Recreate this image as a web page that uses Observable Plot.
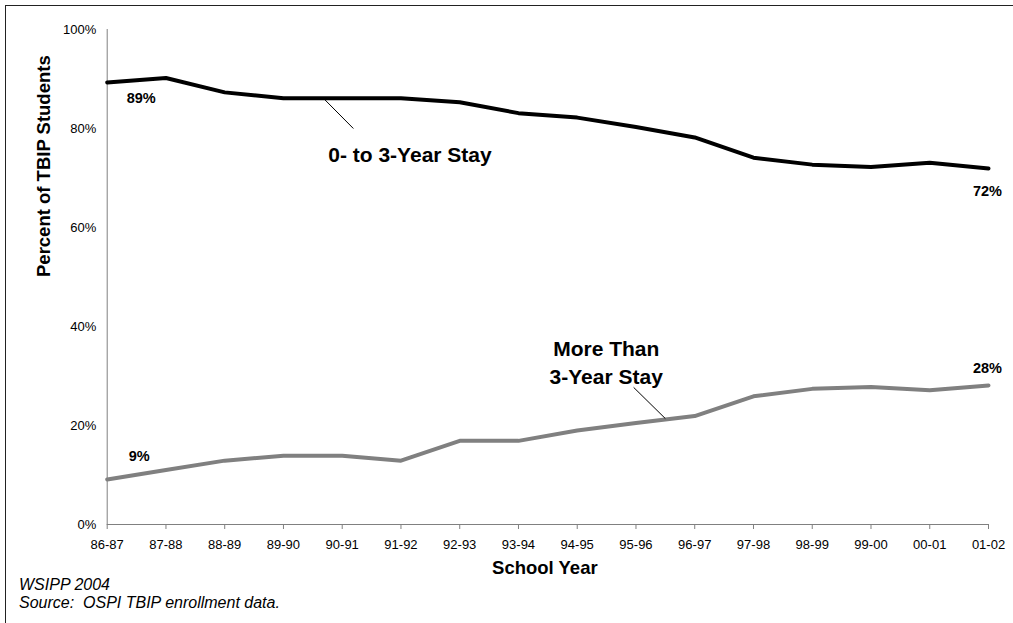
<!DOCTYPE html>
<html>
<head>
<meta charset="utf-8">
<script src="https://cdn.jsdelivr.net/npm/d3@7"></script>
<script src="https://cdn.jsdelivr.net/npm/@observablehq/plot@0.6"></script>
<style>
  html, body { margin: 0; padding: 0; background: #fff; overflow: hidden; }
  #wrap { position: relative; width: 1013px; height: 623px; font-family: Arial, "Liberation Sans", sans-serif; }
  #frame { position: absolute; left: 5px; top: 5px; width: 1030px; height: 640px; border: 1.5px solid #222; box-sizing: border-box; }
  #chart { position: absolute; left: 0; top: 0; }
  .foot { position: absolute; left: 19px; font-style: italic; font-size: 16px; color: #000; white-space: pre; }
</style>
</head>
<body>
<div id="wrap">
  <div id="frame"></div>
  <div id="chart"></div>
  <div class="foot" id="foot1" style="top:576px">WSIPP 2004</div>
  <div class="foot" id="foot2" style="top:594px">Source:  OSPI TBIP enrollment data.</div>
</div>
<script>
// ---- data ----
const years = ["86-87","87-88","88-89","89-90","90-91","91-92","92-93","93-94","94-95","95-96","96-97","97-98","98-99","99-00","00-01","01-02"];
const shortStay = [89.3, 90.2, 87.3, 86.1, 86.1, 86.1, 85.3, 83.1, 82.2, 80.3, 78.2, 74.1, 72.7, 72.2, 73.1, 71.9];
const longStay  = [9.1, 11.0, 12.9, 13.9, 13.9, 12.9, 16.9, 16.9, 19.0, 20.5, 21.9, 25.9, 27.4, 27.8, 27.1, 28.1];
const yTicks = [0, 20, 40, 60, 80, 100];
const shortName = "0- to 3-Year Stay";
const longName = "More Than\n3-Year Stay";
const firstShortLabel = "89%", lastShortLabel = "72%";
const firstLongLabel = "9%", lastLongLabel = "28%";
// leader lines (data space: year index, percent)
const leaders = [
  {x1: 3.68, y1: 86.1, x2: 4.19, y2: 80.0},
  {x1: 8.96, y1: 27.7, x2: 9.50, y2: 21.4}
];

const shortRows = shortStay.map((v, i) => ({i, v}));
const longRows = longStay.map((v, i) => ({i, v}));
const last = years.length - 1;
const font = "Arial, 'Liberation Sans', sans-serif";

const plot = Plot.plot({
  width: 1013,
  height: 590,
  marginLeft: 106.7,
  marginRight: 25,
  marginTop: 29,
  marginBottom: 66,
  style: {fontFamily: font, color: "#000", background: "transparent", overflow: "visible"},
  x: {type: "linear", domain: [0, last]},
  y: {domain: [0, 100]},
  marks: [
    Plot.axisX({ticks: d3.range(years.length), tickFormat: i => years[i], tickSize: 5, tickPadding: 10, fontSize: 13, stroke: "#808080", fill: "#000", label: null}),
    Plot.axisY({ticks: yTicks, tickFormat: d => d + "%", tickSize: 0, tickPadding: 11, fontSize: 13, fill: "#000", label: null}),
    Plot.ruleX([0], {y1: 0, y2: 100, stroke: "#808080"}),
    Plot.ruleY([0], {stroke: "#808080"}),
    Plot.line(longRows, {x: "i", y: "v", stroke: "#808080", strokeWidth: 4}),
    Plot.line(shortRows, {x: "i", y: "v", stroke: "#000", strokeWidth: 4}),
    Plot.link(leaders, {x1: "x1", y1: "y1", x2: "x2", y2: "y2", stroke: "#000", strokeWidth: 1}),
    Plot.text([shortRows[0]], {x: "i", y: "v", text: () => firstShortLabel, dx: 34, dy: 16, fontSize: 14.5, fontWeight: "bold", fontFamily: font}),
    Plot.text([shortRows[last]], {x: "i", y: "v", text: () => lastShortLabel, dx: -1, dy: 23, fontSize: 14.5, fontWeight: "bold", fontFamily: font}),
    Plot.text([longRows[0]], {x: "i", y: "v", text: () => firstLongLabel, dx: 32, dy: -23, fontSize: 14.5, fontWeight: "bold", fontFamily: font}),
    Plot.text([longRows[last]], {x: "i", y: "v", text: () => lastLongLabel, dx: -1, dy: -17, fontSize: 14.5, fontWeight: "bold", fontFamily: font}),
    Plot.text([shortRows[5]], {x: "i", y: "v", text: () => shortName, dx: 9, dy: 57, fontSize: 21, fontWeight: "bold", fontFamily: font}),
    Plot.text([longRows[8]], {x: "i", y: "v", text: () => longName, dx: 29, dy: -69, lineHeight: 1.33, fontSize: 21, fontWeight: "bold", fontFamily: font}),
    Plot.text(["School Year"], {frameAnchor: "bottom", text: d => d, dx: -3, dy: 49, fontSize: 18.5, fontWeight: "bold", fontFamily: font}),
    Plot.text(["Percent of TBIP Students"], {frameAnchor: "left", text: d => d, rotate: -90, dx: -63, fontSize: 18.5, fontWeight: "bold", fontFamily: font})
  ]
});
document.getElementById("chart").appendChild(plot);
</script>
</body>
</html>
